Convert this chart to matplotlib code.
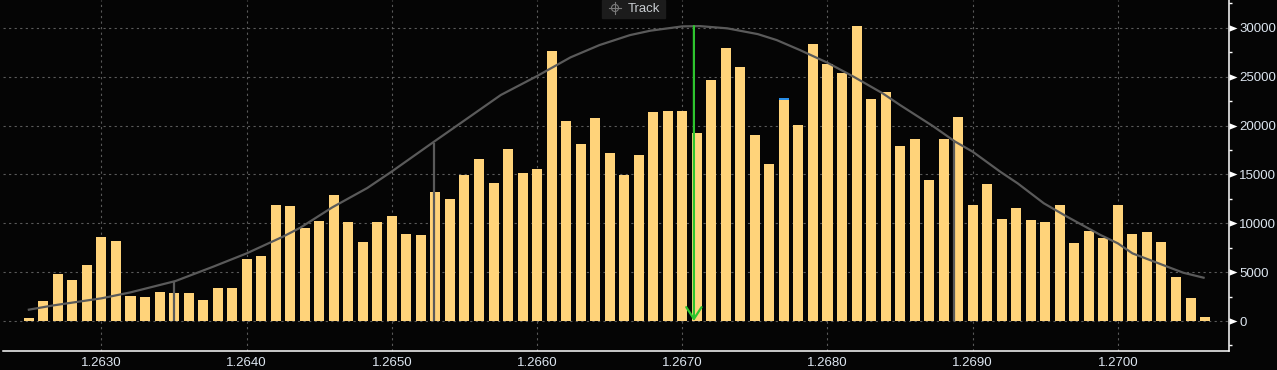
import numpy as np
import matplotlib
matplotlib.use("Agg")
from matplotlib import pyplot as plt
from matplotlib.lines import Line2D
from matplotlib.patches import Rectangle, Ellipse
from matplotlib.ticker import MultipleLocator, FormatStrFormatter
from matplotlib.transforms import blended_transform_factory

# volume per price level (one bar every 0.0001 from 1.2625 to 1.2706)
volume = [300, 2050, 4840, 4190, 5730, 8590, 8180, 2560, 2450, 2970,
          2860, 2860, 2150, 3380, 3380, 6340, 6650, 11860, 11760, 9510,
          10230, 12890, 10130, 8080, 10130, 10740, 8900, 8800, 13190, 12480,
          14930, 16570, 14120, 17590, 15140, 15550, 27620, 20460, 18100, 20760,
          17180, 14930, 16980, 21380, 21480, 21480, 19230, 24650, 27920, 25980,
          19020, 16060, 22600, 20050, 28330, 26290, 25370, 30170, 22700, 23420,
          17900, 18620, 14420, 18620, 20870, 11860, 14010, 10430, 11560, 10330,
          10130, 11860, 7980, 9210, 8490, 11860, 8900, 9100, 8080, 4500,
          2350, 410]
prices = np.round(1.2625 + 0.0001 * np.arange(len(volume)), 4)
# tiny second series sitting on top of one bar
extra = np.zeros(len(volume))
extra[list(prices).index(1.2677)] = 200

# fitted distribution curve
curve_x = [1.26250, 1.26267, 1.26300, 1.26320, 1.26351, 1.26377, 1.26400, 1.26425,
           1.26437, 1.26459, 1.26483, 1.26500, 1.26528, 1.26552, 1.26575, 1.26600,
           1.26623, 1.26643, 1.26664, 1.26678, 1.26700, 1.26712, 1.26731, 1.26752,
           1.26765, 1.26781, 1.26800, 1.26818, 1.26838, 1.26850, 1.26873, 1.26888,
           1.26900, 1.26919, 1.26931, 1.26949, 1.26965, 1.26988, 1.27000, 1.27010,
           1.27034, 1.27045, 1.27059]
curve_y = [1160, 1600, 2320, 2930, 4090, 5560, 6920, 8630,
           9550, 11630, 13600, 15300, 18240, 20730, 23120, 25060,
           26970, 28230, 29250, 29700, 30140, 30170, 29940, 29350,
           28740, 27720, 26420, 24990, 23290, 22090, 19900, 18340,
           17320, 15270, 14080, 12040, 10670, 8800, 7940, 6920,
           5560, 4940, 4430]

# markers: value area edges (gray) and point of control (green)
va_x = [1.26350, 1.26529, 1.26887]
va_top = [4090, 18240, 18340]
poc_x = 1.26708
poc_top = 30170

bg = "#050505"
bar_color = "#ffd37a"
txt = "#dde6f0"
gray = "#5a5a5a"
green = "#2ec52e"

fig = plt.figure(figsize=(12.77, 3.70), dpi=100, facecolor=bg)
ax = fig.add_axes([3 / 1277, 19 / 370, 1226 / 1277, 351 / 370])
ax.set_facecolor(bg)

ax.bar(prices, volume, width=0.000069, color=bar_color, zorder=2)
ax.bar(prices, extra, bottom=volume, width=0.000069, color="#2a8fe8", zorder=2)
ax.plot(curve_x, curve_y, color=gray, lw=1.6, zorder=3)
ax.vlines(va_x, 0, va_top, color=gray, lw=1.6, zorder=4)
ax.annotate("", xy=(poc_x, 0), xytext=(poc_x, poc_top),
            arrowprops=dict(arrowstyle="->,head_length=0.85,head_width=0.55",
                            color=green, lw=1.6, shrinkA=0, shrinkB=0),
            zorder=5)

ax.set_xlim(1.262322, 1.270765)
ax.set_ylim(-3068, 32840)

ax.xaxis.set_major_locator(MultipleLocator(0.001))
ax.xaxis.set_major_formatter(FormatStrFormatter("%.4f"))
ax.yaxis.set_major_locator(MultipleLocator(5000))
ax.yaxis.set_minor_locator(MultipleLocator(2500))
ax.yaxis.tick_right()

ax.grid(True, which="major", color="#5a5a5a", lw=0.8, linestyle=(0, (2, 3)))
ax.set_axisbelow(True)

for s in ["top", "left"]:
    ax.spines[s].set_visible(False)
for s in ["bottom", "right"]:
    ax.spines[s].set_color("white")
    ax.spines[s].set_linewidth(1.1)

ax.tick_params(axis="x", length=0, pad=4, labelsize=9.5, labelcolor=txt)
ax.tick_params(axis="y", which="major", length=0, pad=7.5, labelsize=9.5, labelcolor=txt)
ax.tick_params(axis="y", which="minor", length=2.3, width=1, color="white")
for lab in ax.get_xticklabels() + ax.get_yticklabels():
    lab.set_fontfamily("Liberation Sans")

# triangle tick marks on the right axis
tri = [(0, -0.4), (1, 0), (0, 0.4), (0, -0.4)]
trans = blended_transform_factory(ax.transAxes, ax.transData)
ax.plot([1.0] * 7, np.arange(0, 30001, 5000), linestyle="none", marker=tri,
        markersize=11.5, color="white", markeredgewidth=0,
        transform=trans, clip_on=False, zorder=6)

# "Track" button
W, H = 1277, 370
fig.patches.append(Rectangle((602 / W, 1 - 18 / H), 63 / W, 18 / H,
                             transform=fig.transFigure, color="#1c1c1c", zorder=10))
cx, cy = 615, 8
fig.patches.append(Ellipse((cx / W, 1 - cy / H), 7 / W, 7 / H, transform=fig.transFigure,
                           fill=False, edgecolor="#7a7a7a", lw=0.8, zorder=11))
fig.lines.append(Line2D([(cx - 6) / W, (cx + 6) / W], [1 - cy / H, 1 - cy / H],
                        transform=fig.transFigure, color="#7a7a7a", lw=0.8, zorder=11))
fig.lines.append(Line2D([cx / W, cx / W], [1 - (cy - 6) / H, 1 - (cy + 6) / H],
                        transform=fig.transFigure, color="#7a7a7a", lw=0.8, zorder=11))
fig.text(628 / W, 1 - 8.5 / H, "Track", color="#c8ccd0", fontsize=9.5,
         family="Liberation Sans", va="center", ha="left", zorder=12)

fig.savefig("out.png", dpi=100, facecolor=bg)
